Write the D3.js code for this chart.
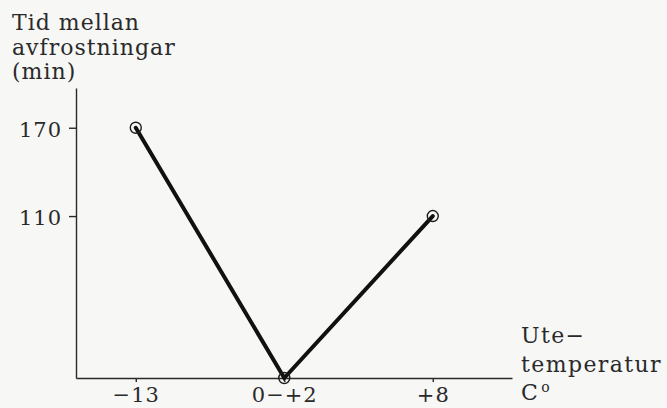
<!DOCTYPE html>
<html>
<head>
<meta charset="utf-8">
<script src="https://cdn.jsdelivr.net/npm/d3@7"></script>
<style>
  html, body { margin: 0; padding: 0; background: #f7f7f6; }
  svg { display: block; }
  text { font-family: "DejaVu Serif", serif; fill: #2a2a2a; }
</style>
</head>
<body>
<script>
// Outdoor temperature bands and the time between defrost cycles (minutes)
const categories = ["−13", "0−+2", "+8"];
const minutes = [170, 0, 110];
const yTicks = [110, 170];
const yTitle = ["Tid mellan", "avfrostningar", "(min)"];
const xTitle = ["Ute−", "temperatur", "C"];

const W = 667, H = 408;
const svg = d3.select("body").append("svg").attr("width", W).attr("height", H);

const x = d3.scalePoint()
  .domain(categories)
  .range([76, 512])
  .padding(0.468)
  .align(0.43);

const y = d3.scaleLinear()
  .domain([0, 197])
  .range([378, 88]);

const axisStyle = g => {
  g.selectAll("path, line").attr("stroke", "#2a2a2a").attr("stroke-width", 1.4);
  g.selectAll("text")
    .attr("font-family", "DejaVu Serif, serif")
    .attr("font-size", 21)
    .attr("letter-spacing", 1)
    .attr("fill", "#2a2a2a");
};

// y axis
svg.append("g")
  .attr("transform", "translate(76,0)")
  .call(d3.axisLeft(y).tickValues(yTicks).tickSize(7).tickSizeOuter(0).tickPadding(7))
  .call(axisStyle)
  .call(g => g.selectAll("text").attr("dy", "0.42em"));

// x axis
svg.append("g")
  .attr("transform", "translate(0,378)")
  .call(d3.axisBottom(x).tickSize(4).tickSizeOuter(0).tickPadding(5))
  .call(axisStyle)
  .call(g => g.selectAll("text").attr("dy", "0.71em"));

// y title
svg.append("text")
  .attr("x", 12).attr("y", 30)
  .attr("font-size", 22)
  .attr("letter-spacing", 1)
  .selectAll("tspan").data(yTitle).join("tspan")
  .attr("x", 12)
  .attr("dy", (d, i) => i === 0 ? 0 : 24.5)
  .text(d => d);

// x title
const xt = svg.append("text")
  .attr("x", 521).attr("y", 343)
  .attr("font-size", 22)
  .attr("letter-spacing", 1.4);
xt.selectAll("tspan").data(xTitle).join("tspan")
  .attr("x", 521)
  .attr("dy", (d, i) => i === 0 ? 0 : 28.5)
  .text(d => d);
xt.append("tspan").attr("dy", -8).attr("dx", 2).attr("font-size", 14).text("o");

// line
const pts = categories.map((c, i) => ({ c, v: minutes[i] }));
svg.append("path")
  .datum(pts)
  .attr("fill", "none")
  .attr("stroke", "#111")
  .attr("stroke-width", 4)
  .attr("stroke-linecap", "round")
  .attr("d", d3.line().x(d => x(d.c)).y(d => y(d.v)));

// markers
svg.selectAll("circle.m").data(pts).join("circle")
  .attr("class", "m")
  .attr("cx", d => x(d.c))
  .attr("cy", d => y(d.v))
  .attr("r", 5.5)
  .attr("fill", "none")
  .attr("stroke", "#1c1c1c")
  .attr("stroke-width", 1.4);
</script>
</body>
</html>
